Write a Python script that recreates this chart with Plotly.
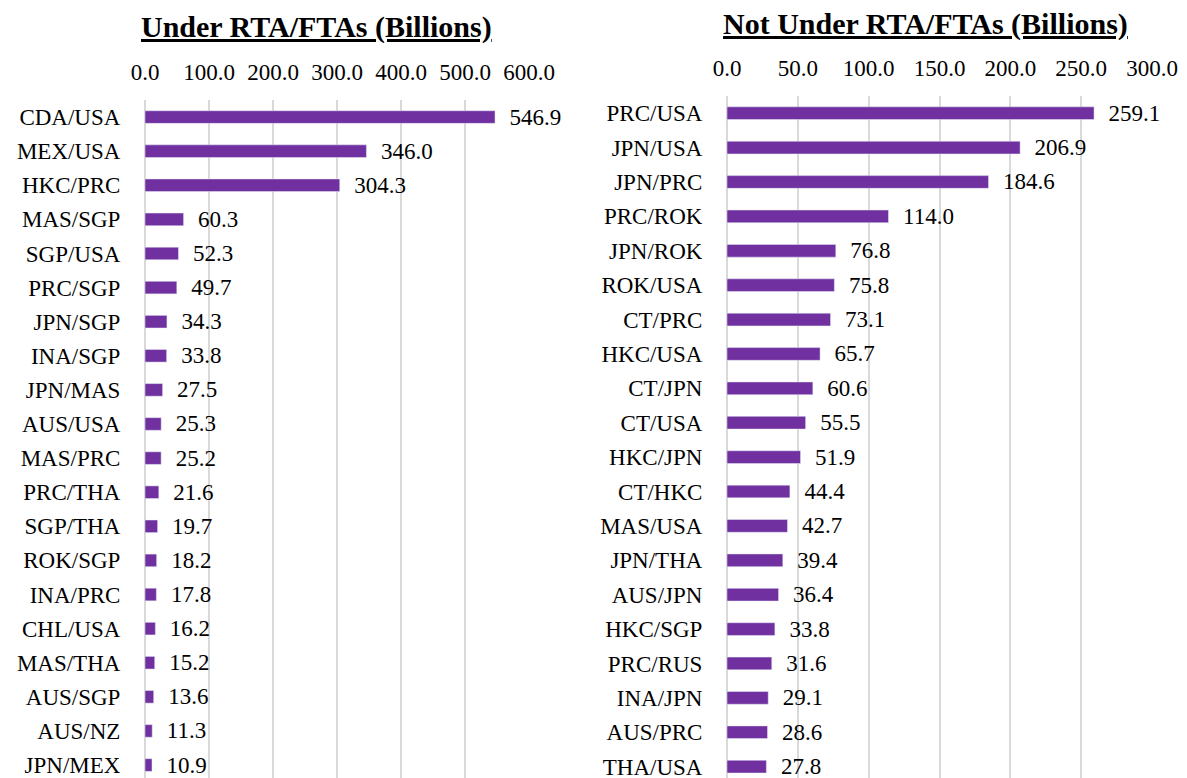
import plotly.graph_objects as go

# Under RTA/FTAs
left_cats = ["CDA/USA", "MEX/USA", "HKC/PRC", "MAS/SGP", "SGP/USA", "PRC/SGP", "JPN/SGP",
             "INA/SGP", "JPN/MAS", "AUS/USA", "MAS/PRC", "PRC/THA", "SGP/THA", "ROK/SGP",
             "INA/PRC", "CHL/USA", "MAS/THA", "AUS/SGP", "AUS/NZ", "JPN/MEX"]
left_vals = [546.9, 346.0, 304.3, 60.3, 52.3, 49.7, 34.3, 33.8, 27.5, 25.3,
             25.2, 21.6, 19.7, 18.2, 17.8, 16.2, 15.2, 13.6, 11.3, 10.9]

# Not under RTA/FTAs
right_cats = ["PRC/USA", "JPN/USA", "JPN/PRC", "PRC/ROK", "JPN/ROK", "ROK/USA", "CT/PRC",
              "HKC/USA", "CT/JPN", "CT/USA", "HKC/JPN", "CT/HKC", "MAS/USA", "JPN/THA",
              "AUS/JPN", "HKC/SGP", "PRC/RUS", "INA/JPN", "AUS/PRC", "THA/USA"]
right_vals = [259.1, 206.9, 184.6, 114.0, 76.8, 75.8, 73.1, 65.7, 60.6, 55.5,
              51.9, 44.4, 42.7, 39.4, 36.4, 33.8, 31.6, 29.1, 28.6, 27.8]

FONT = "Liberation Serif, Times New Roman, serif"
PURPLE = "#7030A0"
GRID = "#d9d9d9"

# page body has an 8px margin, so the figure is a bit smaller and offset
OFF = 8
W, H = 1187 - OFF, 778 - OFF


def px(x):
    return (x - OFF) / W


def py(y):
    return 1 - (y - OFF) / H


fig = go.Figure()

for cats, vals, xa, ya in [(left_cats, left_vals, "x", "y"),
                           (right_cats, right_vals, "x2", "y2")]:
    fig.add_trace(go.Bar(
        x=vals, y=cats, orientation="h",
        marker=dict(color=PURPLE),
        text=[f"\u00a0\u00a0{v:.1f}" for v in vals],
        textposition="outside",
        textfont=dict(family=FONT, size=23, color="black"),
        constraintext="none",
        cliponaxis=False,
        xaxis=xa, yaxis=ya,
        showlegend=False,
    ))

xcommon = dict(side="top", showgrid=True, gridcolor=GRID, gridwidth=1.5,
               zeroline=True, zerolinecolor=GRID, zerolinewidth=1.5,
               showline=False, ticks="outside", ticklen=10, automargin=False,
               tickcolor="rgba(0,0,0,0)", tickformat=".1f",
               tickfont=dict(family=FONT, size=23, color="black"))
ycommon = dict(type="category", showgrid=False, zeroline=False, showline=False,
               ticks="outside", ticklen=19, tickcolor="rgba(0,0,0,0)", automargin=False,
               tickfont=dict(family=FONT, size=23, color="black"))

fig.update_layout(
    width=W, height=H,
    margin=dict(l=0, r=0, t=0, b=0),
    plot_bgcolor="white", paper_bgcolor="white",
    bargap=0.63,
    font=dict(family=FONT),
    xaxis=dict(domain=[px(145), px(529)], range=[0, 600], dtick=100,
               anchor="y", **xcommon),
    yaxis=dict(domain=[0, py(100)], range=[19.38, -0.5], anchor="x", **ycommon),
    xaxis2=dict(domain=[px(727), px(1152)], range=[0, 300], dtick=50,
                anchor="y2", **xcommon),
    yaxis2=dict(domain=[0, py(96)], range=[19.33, -0.5], anchor="x2", **ycommon),
    annotations=[
        dict(text="<b><u>Under RTA/FTAs (Billions)</u></b>", x=px(316), y=py(27),
             xref="paper", yref="paper", showarrow=False, xanchor="center", yanchor="middle",
             font=dict(family=FONT, size=30, color="black")),
        dict(text="<b><u>Not Under RTA/FTAs (Billions)</u></b>", x=px(925), y=py(24),
             xref="paper", yref="paper", showarrow=False, xanchor="center", yanchor="middle",
             font=dict(family=FONT, size=30, color="black")),
    ],
)

fig.write_html("out.html")
